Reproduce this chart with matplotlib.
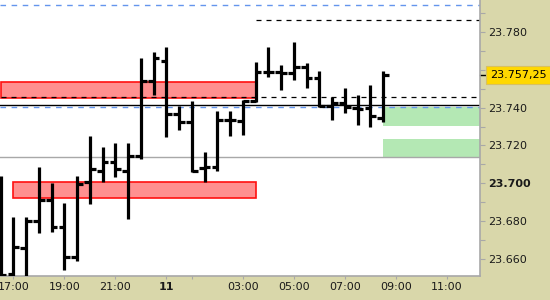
import matplotlib
matplotlib.use("Agg")
import matplotlib.pyplot as plt
from matplotlib.patches import Rectangle
import numpy as np

# 30 minute OHLC bars, index 0 = 16:30 (no bar between 23:00 and 00:00)
opens = [23.7000, 23.6521, 23.6658, 23.6802, 23.6913, 23.6772, 23.6614, 23.7009,
         23.7067, 23.7115, 23.7067, 23.7146, 23.7539, 23.7647, 23.7365, 23.7326,
         23.7080, 23.7087, 23.7334, 23.7331, 23.7435, 23.7588, 23.7588, 23.7581,
         23.7615, 23.7554, 23.7408, 23.7426, 23.7396, 23.7396, 23.7343]
highs = [23.7039, 23.6821, 23.6821, 23.7087, 23.7004, 23.6895, 23.7039, 23.7250,
         23.7192, 23.7215, 23.7212, 23.7660, 23.7691, 23.7718, 23.7408, 23.7435,
         23.7164, 23.7384, 23.7382, 23.7440, 23.7639, 23.7721, 23.7624, 23.7746,
         23.7633, 23.7593, 23.7454, 23.7502, 23.7466, 23.7519, 23.7594]
lows = [23.6500, 23.6505, 23.6505, 23.6740, 23.6746, 23.6544, 23.6593, 23.6890,
        23.7006, 23.7036, 23.6811, 23.7127, 23.7466, 23.7246, 23.7282, 23.7062,
        23.7006, 23.7066, 23.7252, 23.7255, 23.7428, 23.7563, 23.7493, 23.7545,
        23.7505, 23.7405, 23.7334, 23.7373, 23.7308, 23.7296, 23.7326]
closes = [23.6517, 23.6666, 23.6802, 23.6913, 23.6772, 23.6614, 23.6997, 23.7076,
          23.7115, 23.7076, 23.7146, 23.7539, 23.7663, 23.7365, 23.7326, 23.7067,
          23.7087, 23.7334, 23.7334, 23.7436, 23.7588, 23.7588, 23.7581, 23.7615,
          23.7554, 23.7410, 23.7426, 23.7405, 23.7391, 23.7356, 23.75725]

x_ticks = [1, 5, 9, 13, 15, 19, 23, 27, 31, 35]
x_labels = ["17:00", "19:00", "21:00", "11", "", "03:00", "05:00", "07:00", "09:00", "11:00"]

y_ticks = [23.66, 23.67, 23.68, 23.69, 23.70, 23.71, 23.72, 23.73,
           23.74, 23.75, 23.76, 23.77, 23.78, 23.79]
y_labels = ["23.660", "", "23.680", "", "23.700", "", "23.720", "",
            "23.740", "", "", "", "23.780", ""]

# zones: start bar, end bar (None = to the right edge), top, bottom
red_zones = [(0, 20, 23.7533, 23.7449), (1, 20, 23.7006, 23.6921)]
green_zones = [(30, None, 23.7401, 23.7303), (30, None, 23.7233, 23.7141)]

blue_levels = [23.7939, 23.7401]
dashed_levels = [(0, 23.7454), (20, 23.7860)]
solid_level = 23.7412
gray_level = 23.7138

khaki = "#d9d7aa"
x_min, x_max = -0.055, 37.59

fig = plt.figure(figsize=(5.5, 3), dpi=100, facecolor=khaki)
ax = fig.add_axes([0, 24 / 300, 480 / 550, 276 / 300])
ax.set_facecolor("white")
ax.set_xlim(x_min, x_max)
ax.set_ylim(23.6512, 23.7967)

for start, end, top, bottom in red_zones:
    end = x_max + 1 if end is None else end
    ax.add_patch(Rectangle((start, bottom), end - start, top - bottom,
                           facecolor="#ff9090", edgecolor="#ff1010", lw=1.2, zorder=1))
for start, end, top, bottom in green_zones:
    end = x_max + 1 if end is None else end
    ax.add_patch(Rectangle((start, bottom), end - start, top - bottom,
                           facecolor="#b4e8b4", edgecolor="none", zorder=1))

ax.axhline(gray_level, color="#a8a8a8", lw=1, zorder=1.5)
ax.axhline(solid_level, color="black", lw=1, zorder=2)
for lvl in blue_levels:
    ax.axhline(lvl, color="#6495ed", lw=1, dashes=(4, 4), zorder=2)
for start, lvl in dashed_levels:
    ax.hlines(lvl, start, x_max + 1, color="black", lw=0.9,
              linestyles=(0, (4, 4)), zorder=2)

x = np.arange(len(opens))
ax.vlines(x, lows, highs, color="black", lw=2.3, capstyle="butt", zorder=3)
ax.hlines(opens, x - 0.45, x, color="black", lw=2.3, capstyle="butt", zorder=3)
ax.hlines(closes, x, x + 0.45, color="black", lw=2.3, capstyle="butt", zorder=3)

for side in ["left", "top"]:
    ax.spines[side].set_visible(False)
for side in ["right", "bottom"]:
    ax.spines[side].set_color("#a8a8a8")
    ax.spines[side].set_linewidth(1.2)

ax.yaxis.tick_right()
ax.set_yticks(y_ticks)
ax.set_yticklabels(y_labels)
ax.set_xticks(x_ticks)
ax.set_xticklabels(x_labels)
ax.tick_params(axis="y", length=3.5, width=0.8, color="#a8a8a8", pad=2.5,
               labelsize=8, labelcolor="#1a1a1a")
ax.tick_params(axis="x", length=2.5, width=0.8, color="#a8a8a8", pad=2,
               labelsize=8, labelcolor="#1a1a1a")
for lab in ax.get_yticklabels():
    if lab.get_text() == "23.700":
        lab.set_fontweight("bold")
for lab in ax.get_xticklabels():
    if lab.get_text() == "11":
        lab.set_fontweight("bold")

last = closes[-1]
last_text = f"{last:.5f}"
last_text = last_text[:6] + "," + last_text[6:]
ytrans = ax.get_yaxis_transform()
ax.plot([1.0, 1.012], [last, last], color="black", lw=1, transform=ytrans, clip_on=False)
ax.text(1.021, last, last_text, transform=ytrans, ha="left", va="center",
        fontsize=8, color="black", clip_on=False,
        bbox=dict(boxstyle="square,pad=0.35", fc="#ffd800", ec="#d8c060", lw=0.8))

fig.savefig("out.png", dpi=100, facecolor=khaki)
